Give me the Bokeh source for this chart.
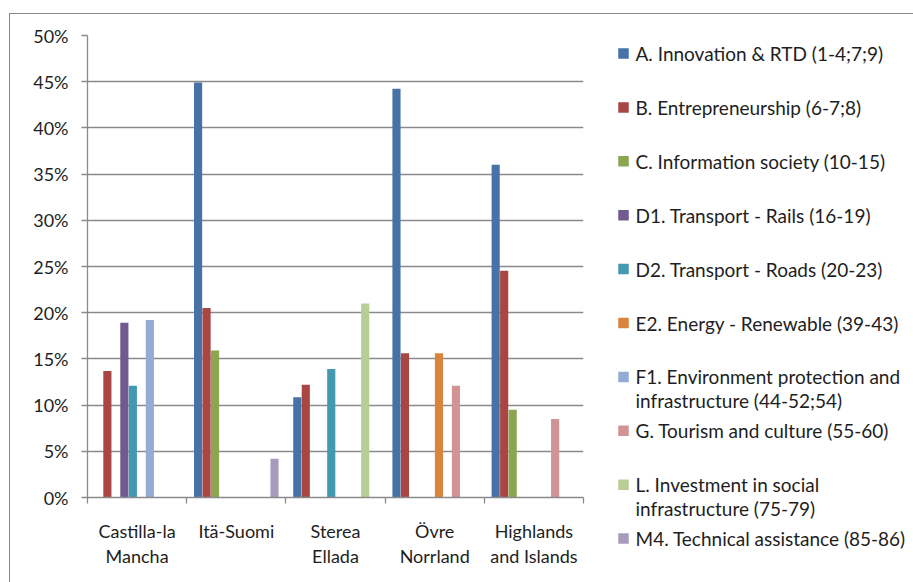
from bokeh.plotting import figure
from bokeh.layouts import row
from bokeh.models import Range1d, FixedTicker, NumeralTickFormatter
from bokeh.core.properties import value
from bokeh.embed import file_html
from bokeh.resources import INLINE

# ---------------- data ----------------
regions = ["Castilla-la Mancha", "Itä-Suomi", "Sterea Ellada", "Övre Norrland", "Highlands and Islands"]
region_tick_labels = ["Castilla-la\nMancha", "Itä-Suomi", "Sterea\nEllada", "Övre\nNorrland", "Highlands\nand Islands"]

series_names = [
    "A. Innovation & RTD (1-4;7;9)",
    "B. Entrepreneurship (6-7;8)",
    "C. Information society (10-15)",
    "D1. Transport - Rails (16-19)",
    "D2. Transport - Roads (20-23)",
    "E2. Energy - Renewable (39-43)",
    "F1. Environment protection and\ninfrastructure (44-52;54)",
    "G. Tourism and culture (55-60)",
    "L. Investment in social\ninfrastructure (75-79)",
    "M4. Technical assistance (85-86)",
]

a_innovation = [0.0, 0.449, 0.1085, 0.4425, 0.360]
b_entrepreneurship = [0.137, 0.205, 0.122, 0.156, 0.2455]
c_information = [0.0, 0.159, 0.0, 0.0, 0.095]
d1_rails = [0.189, 0.0, 0.0, 0.0, 0.0]
d2_roads = [0.121, 0.0, 0.139, 0.0, 0.0]
e2_renewable = [0.0, 0.0, 0.0, 0.156, 0.0]
f1_environment = [0.192, 0.0, 0.0, 0.0, 0.0]
g_tourism = [0.0, 0.0, 0.0, 0.121, 0.085]
l_social = [0.0, 0.0, 0.210, 0.0, 0.0]
m4_technical = [0.0, 0.042, 0.0, 0.0, 0.0]

series_values = [a_innovation, b_entrepreneurship, c_information, d1_rails, d2_roads,
                 e2_renewable, f1_environment, g_tourism, l_social, m4_technical]

y_ticks = [0.0, 0.05, 0.10, 0.15, 0.20, 0.25, 0.30, 0.35, 0.40, 0.45, 0.50]

# ---------------- styles ----------------
series_colors = ["#4672A8", "#A94644", "#8AA650", "#725A90", "#4399B0",
                 "#DB843D", "#95ABD3", "#D19394", "#B9CE96", "#A99BBD"]
FONT = "Lato"
FSIZE = "18px"
LEG_FSIZE = "19px"
TXT = "#1e1e1e"
GRID = "#8a8a8a"

p = figure(width=590, height=582, x_range=Range1d(0, 5), y_range=Range1d(0, 0.5),
           output_backend="svg", toolbar_location=None,
           min_border_left=87, min_border_right=7, min_border_top=35, min_border_bottom=85)
p.outline_line_color = None
p.background_fill_color = "#ffffff"
p.border_fill_alpha = 0

n = len(series_names)
margin = 0.072
slot = 0.0856
for j, (name, color, vals) in enumerate(zip(series_names, series_colors, series_values)):
    xs = [i + margin + (j + 0.5) * slot for i in range(len(regions))]
    p.vbar(x=xs, top=vals, bottom=0, width=slot * 0.96, fill_color=color, line_color=None)

# y axis
p.yaxis.ticker = FixedTicker(ticks=y_ticks)
p.yaxis.formatter = NumeralTickFormatter(format="0%")
p.yaxis.axis_line_color = GRID
p.yaxis.axis_line_width = 1.3
p.yaxis.major_tick_line_color = GRID
p.yaxis.major_tick_line_width = 1.3
p.yaxis.major_tick_out = 6
p.yaxis.major_tick_in = 0
p.yaxis.minor_tick_line_color = None
p.yaxis.major_label_standoff = 13
p.yaxis.major_label_text_font = FONT
p.yaxis.major_label_text_font_size = FSIZE
p.yaxis.major_label_text_color = TXT

# x axis: labels at centers, ticks at boundaries
centers = [i + 0.5 for i in range(len(regions))]
p.xaxis.ticker = FixedTicker(ticks=centers, minor_ticks=[0, 1, 2, 3, 4, 5])
p.xaxis.major_label_overrides = {c: lab for c, lab in zip(centers, region_tick_labels)}
p.xaxis.axis_line_color = GRID
p.xaxis.axis_line_width = 1.3
p.xaxis.major_tick_line_color = None
p.xaxis.minor_tick_line_color = GRID
p.xaxis.minor_tick_line_width = 1.3
p.xaxis.minor_tick_out = 6
p.xaxis.minor_tick_in = 0
p.xaxis.major_tick_out = 0
p.xaxis.major_tick_in = 0
p.xaxis.major_label_standoff = 16
p.xaxis.major_label_text_font = FONT
p.xaxis.major_label_text_font_size = FSIZE
p.xaxis.major_label_text_color = TXT
p.xaxis.major_label_text_line_height = 1.15

p.xgrid.visible = False
p.ygrid.ticker = FixedTicker(ticks=y_ticks)
p.ygrid.grid_line_color = GRID
p.ygrid.grid_line_width = 1.3

# ---------------- legend panel ----------------
leg = figure(width=323, height=582, x_range=Range1d(590, 913), y_range=Range1d(582, 0),
             x_axis_type=None, y_axis_type=None, output_backend="svg", toolbar_location=None,
             min_border=0, min_border_left=0, min_border_right=0,
             min_border_top=0, min_border_bottom=0)
leg.outline_line_color = None
leg.background_fill_alpha = 0
leg.border_fill_alpha = 0
p.frame_align = False
leg.frame_align = False

row_y = [53 + k * 53.9 for k in range(n)]
leg.rect(x=[623] * n, y=row_y, width=10.5, height=10.5, fill_color=series_colors, line_color=None)
tx, ty, tt = [], [], []
for k, name in enumerate(series_names):
    for m, line in enumerate(name.split("\n")):
        tx.append(635)
        ty.append(row_y[k] + m * 23.5)
        tt.append(line)
leg.text(x=tx, y=ty, text=tt, text_baseline="middle", text_align="left",
         text_font=value(FONT), text_font_size=LEG_FSIZE, text_color=TXT)

layout = row(p, leg, styles={
    "background": "linear-gradient(#888888,#888888) 9px 13px / 1px 700px no-repeat, "
                  "linear-gradient(#888888,#888888) 9px 13px / 1000px 1px no-repeat, #ffffff"
})

open("out.html", "w").write(file_html(layout, INLINE))
